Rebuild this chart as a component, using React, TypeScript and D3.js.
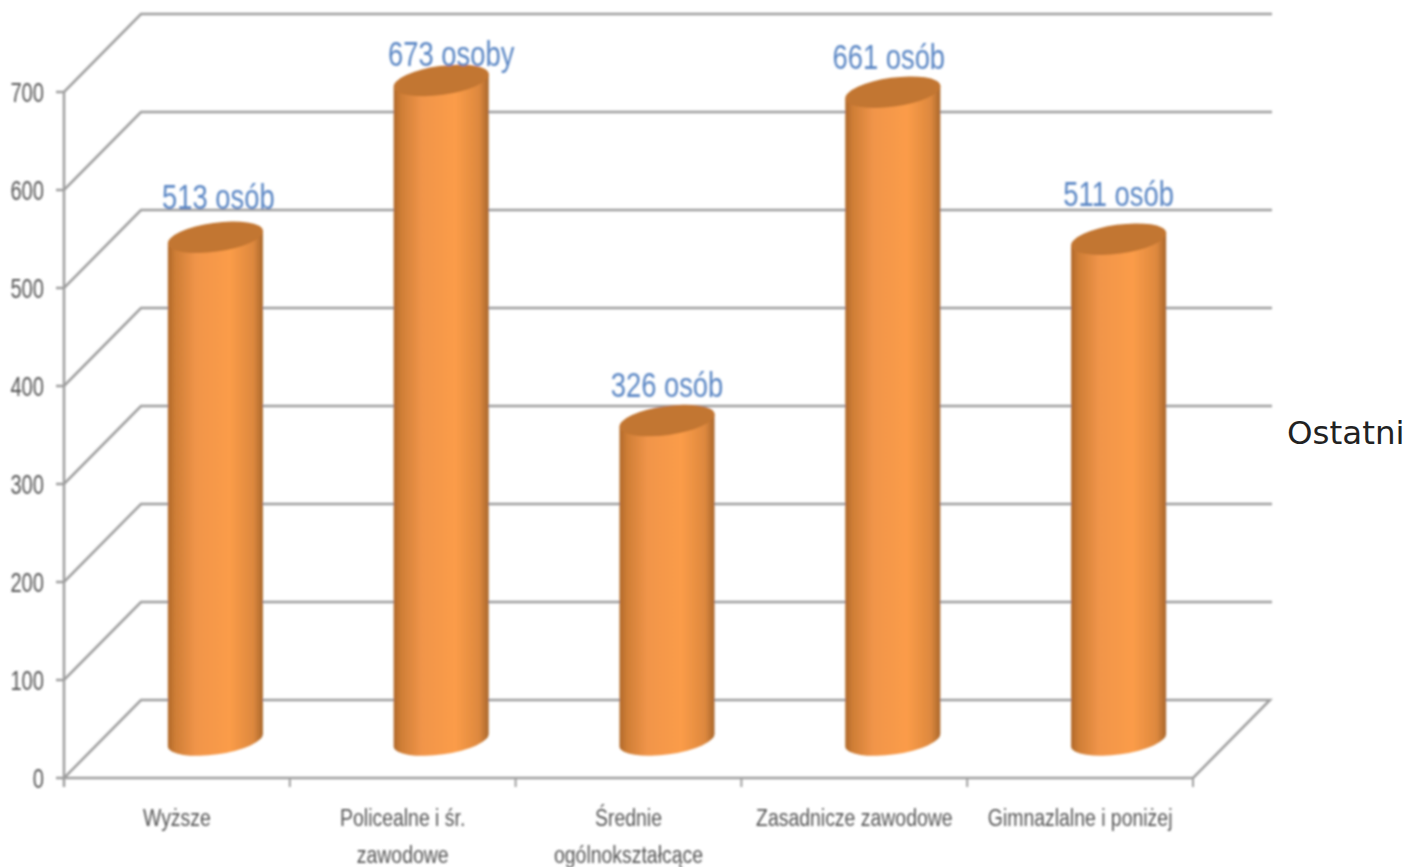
import * as React from "react";
import * as d3 from "d3";

const categories: string[][] = [
  ["Wyższe"],
  ["Policealne i śr.", "zawodowe"],
  ["Średnie", "ogólnokształcące"],
  ["Zasadnicze zawodowe"],
  ["Gimnazlalne i poniżej"]
];
const values: number[] = [513, 673, 326, 661, 511];
const valueLabels: string[] = ["513 osób", "673 osoby", "326 osób", "661 osób", "511 osób"];
const yTicks: number[] = [0, 100, 200, 300, 400, 500, 600, 700];

const width = 1405;
const height = 867;
const left = 64;
const right = 1193;
const bottom = 778;
const top = 92;
const depthX = 77;
const depthY = 78;
const rx = 48;
const ry = 14.5;
const tilt = -8;

// labels in the picture do not sit at the same distance from the bars
const labelDx = [3, 10, 0, -4, 0];
const labelDy = [-28, -14, -24, -23, -33];

const yScale = d3.scaleLinear().domain([0, 700]).range([bottom, top]);
const xScale = d3
  .scaleBand<number>()
  .domain(d3.range(categories.length))
  .range([left, right]);
const xEdges = d3.range(categories.length + 1).map(i => left + i * xScale.bandwidth());

// no condensed face is installed, so Liberation Sans gets squeezed horizontally
const font = "'Liberation Sans', sans-serif";
const gridColor = "#9e9e9e";

const cylinder = (cx: number, topY: number, baseY: number) => {
  const p = d3.path();
  const dx = rx * Math.cos((tilt * Math.PI) / 180);
  const dy = rx * Math.sin((tilt * Math.PI) / 180);
  p.moveTo(cx - dx, topY - dy);
  p.lineTo(cx - dx, baseY - dy);
  const arc = `A${rx},${ry} ${tilt} 0 0 ${cx + dx},${baseY + dy}`;
  return `${p.toString()}${arc}L${cx + dx},${topY + dy}Z`;
};

const Squeezed = ({ x, y, k, size, anchor, fill, children }: any) => (
  <text
    transform={`translate(${x},${y}) scale(${k},1)`}
    textAnchor={anchor}
    fontFamily={font}
    fontSize={size}
    fill={fill}
  >
    {children}
  </text>
);

export default function App() {
  const xMid = i => xScale(i) + xScale.bandwidth() / 2;
  return (
    <svg
      width={width}
      height={height}
      style={{ position: "absolute", left: 0, top: 0, background: "#fff" }}
    >
      <defs>
        <linearGradient id="body" x1="0" x2="1" y1="0" y2="0">
          <stop offset="0" stopColor="#b0682a" />
          <stop offset="0.08" stopColor="#cf7e36" />
          <stop offset="0.3" stopColor="#f1954a" />
          <stop offset="0.65" stopColor="#fb9c48" />
          <stop offset="0.9" stopColor="#dd883e" />
          <stop offset="1" stopColor="#a9672c" />
        </linearGradient>
        <filter id="soft" x="-5%" y="-5%" width="110%" height="110%">
          <feGaussianBlur stdDeviation="0.8" />
        </filter>
      </defs>
      <g filter="url(#soft)">
        {yTicks.map(t => (
          <path
            key={t}
            d={
              t === 0
                ? `M${left},${yScale(t)}L${left + depthX},${yScale(t) - depthY}H${right + depthX}L${right},${yScale(t)}Z`
                : `M${left - 8},${yScale(t)}H${left}L${left + depthX},${yScale(t) - depthY}H${right + depthX + 2}`
            }
            fill="none"
            stroke={gridColor}
            strokeWidth={2.5}
          />
        ))}
        <path d={`M${left - 8},${bottom}H${left}`} stroke={gridColor} strokeWidth={2.5} />
        <line x1={left} x2={left} y1={top} y2={bottom + 9} stroke={gridColor} strokeWidth={2.5} />
        {xEdges.map(x => (
          <line key={x} x1={x} x2={x} y1={bottom} y2={bottom + 9} stroke={gridColor} strokeWidth={2} />
        ))}
        {yTicks.map(t => (
          <Squeezed key={t} x={44} y={yScale(t) + 10} k={0.72} size={28} anchor="end" fill="#555">
            {t}
          </Squeezed>
        ))}
        {values.map((v, i) => {
          const cx = xMid(i) + depthX / 2;
          const topY = yScale(v) - depthY / 2 + 1;
          const baseY = bottom - depthY / 2 + 1;
          return (
            <g key={i}>
              <path d={cylinder(cx, topY, baseY)} fill="url(#body)" />
              <ellipse
                cx={cx}
                cy={topY}
                rx={rx}
                ry={ry}
                transform={`rotate(${tilt} ${cx} ${topY})`}
                fill="#c27630"
              />
              <Squeezed
                x={cx + labelDx[i]}
                y={topY + labelDy[i]}
                k={0.76}
                size={36}
                anchor="middle"
                fill="#5a86c4"
              >
                {valueLabels[i]}
              </Squeezed>
            </g>
          );
        })}
        {categories.map((lines, i) =>
          lines.map((line, j) => (
            <Squeezed key={line} x={xMid(i)} y={826 + j * 37} k={0.81} size={24} anchor="middle" fill="#555">
              {line}
            </Squeezed>
          ))
        )}
      </g>
      <text x={1287} y={444} fontFamily="'DejaVu Sans', sans-serif" fontSize={32.5} fill="#222">
        Ostatni
      </text>
    </svg>
  );
}
